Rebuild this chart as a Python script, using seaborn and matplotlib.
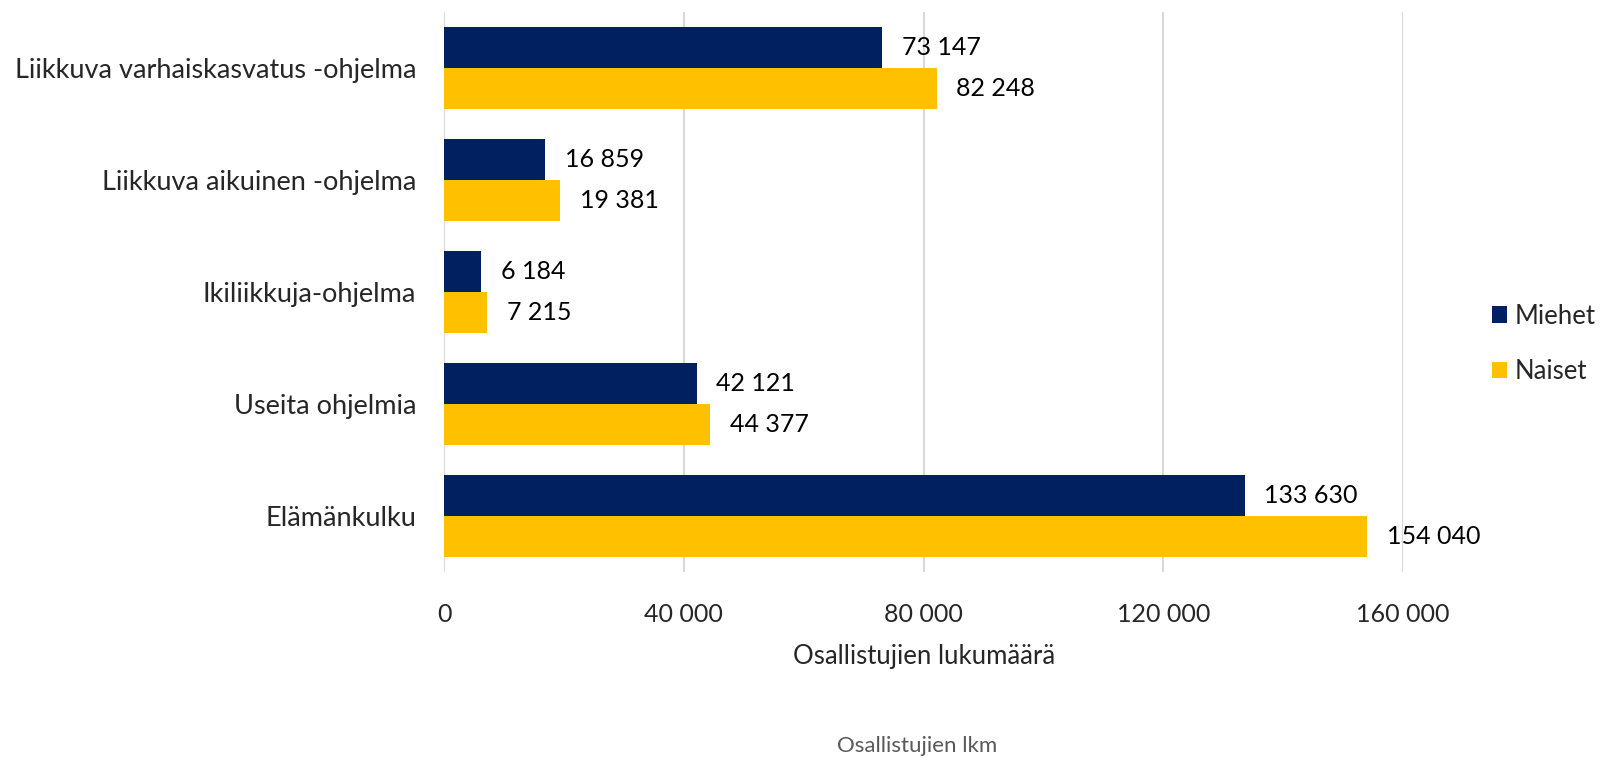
import matplotlib
matplotlib.use("Agg")
import matplotlib.pyplot as plt
import seaborn as sns
import pandas as pd
from matplotlib.patches import Patch

categories = ["Liikkuva varhaiskasvatus -ohjelma", "Liikkuva aikuinen -ohjelma",
              "Ikiliikkuja-ohjelma", "Useita ohjelmia", "Elämänkulku"]
miehet = [73147, 16859, 6184, 42121, 133630]
naiset = [82248, 19381, 7215, 44377, 154040]
series = ["Miehet", "Naiset"]
colors = ["#002060", "#FFC000"]
xticks = [0, 40000, 80000, 120000, 160000]

df = pd.DataFrame({
    "Ohjelma": categories * 2,
    "Sukupuoli": ["Miehet"] * len(categories) + ["Naiset"] * len(categories),
    "Arvo": miehet + naiset,
})

sns.set_theme(style="white")
plt.rcParams['font.family'] = ['Lato', 'DejaVu Sans']

fig = plt.figure(figsize=(16.09, 7.61), dpi=100)
ax = fig.add_axes([0.276, 0.248, 0.596, 0.736])

sns.barplot(data=df, y="Ohjelma", x="Arvo", hue="Sukupuoli", order=categories,
            hue_order=series, palette=colors, orient="h", width=0.73,
            saturation=1, legend=False, ax=ax, errorbar=None, linewidth=0)

def fmt(v):
    return f"{int(v):,}".replace(",", " ")

for cont in ax.containers:
    for bar in cont:
        w = bar.get_width()
        ax.annotate(fmt(w), (w, bar.get_y() + bar.get_height() / 2),
                    xytext=(14, 0), textcoords="offset points",
                    ha="left", va="center", fontsize=18, color="#000000")

ax.set_xlim(0, 160000)
ax.set_ylim(len(categories) - 0.5, -0.5)
ax.set_xticks(xticks)
ax.set_xticklabels([fmt(t) for t in xticks], fontsize=18)
ax.tick_params(axis="y", labelsize=19.5, pad=20, length=0)
ax.tick_params(axis="x", pad=22, length=0)
ax.set_ylabel("")
ax.set_xlabel("Osallistujien lukumäärä", fontsize=18.5, labelpad=13)
ax.xaxis.grid(True, color="#D9D9D9", linewidth=1.5)
ax.set_axisbelow(True)
for s in ax.spines.values():
    s.set_visible(False)

handles = [Patch(facecolor=c, edgecolor="none") for c in colors]
fig.legend(handles, series, loc="center left", bbox_to_anchor=(0.927, 0.548),
           frameon=False, fontsize=18.5, handlelength=0.6, handleheight=0.6,
           handletextpad=0.3, labelspacing=1.2, borderpad=0, borderaxespad=0)

fig.text(0.57, 0.006, "Osallistujien lkm", ha="center", va="bottom",
         fontsize=16, color="#595959")

fig.savefig("out.png", dpi=100)
